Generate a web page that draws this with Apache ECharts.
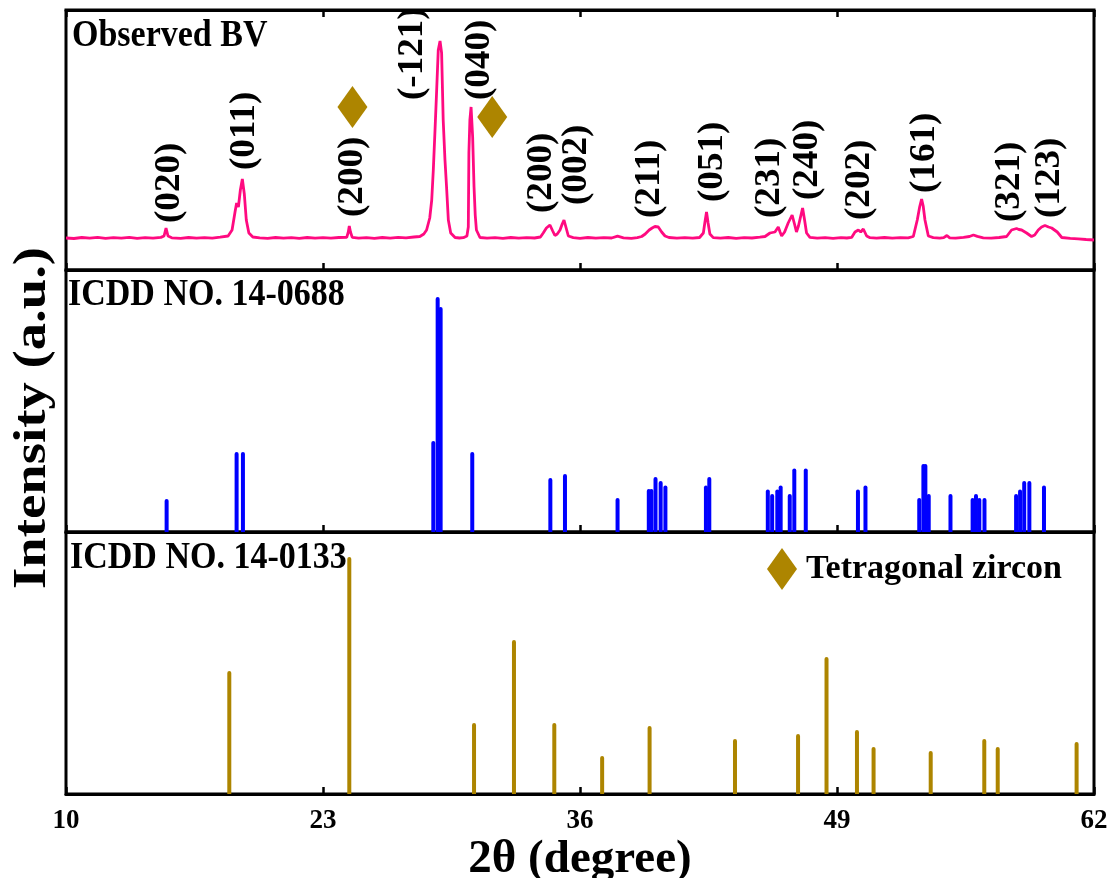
<!DOCTYPE html>
<html><head><meta charset="utf-8">
<script src="https://cdn.jsdelivr.net/npm/echarts@6/dist/echarts.min.js"></script>
<style>html,body{margin:0;padding:0;background:#fff}#c{width:1110px;height:878px}</style>
</head><body><div id="c"></div>
<script>
// ---- data ----
const xTicks = [10, 23, 36, 49, 62];

// Observed BV pattern (2θ, intensity in panel units)
const bvTheta = [10.0,10.4,10.8,11.2,11.6,12.0,12.4,12.8,13.2,13.6,14.0,14.4,14.8,14.96,15.06,15.16,15.35,15.8,16.2,16.6,17.0,17.4,17.8,18.2,18.4,18.55,18.63,18.72,18.82,18.92,19.02,19.12,19.25,19.45,19.8,20.2,20.6,21.0,21.4,21.8,22.2,22.6,23.0,23.4,23.8,24.2,24.28,24.33,24.39,24.48,24.8,25.2,25.6,26.0,26.4,26.8,27.2,27.6,27.9,28.1,28.24,28.4,28.5,28.58,28.66,28.75,28.83,28.92,29.0,29.08,29.17,29.25,29.34,29.46,29.68,29.9,30.1,30.28,30.35,30.38,30.43,30.49,30.57,30.64,30.70,30.76,30.94,31.3,31.7,32.1,32.5,32.9,33.3,33.7,34.0,34.14,34.3,34.48,34.62,34.73,34.85,34.99,35.1,35.19,35.3,35.41,35.66,36.0,36.4,36.8,37.2,37.6,37.9,38.2,38.6,38.9,39.12,39.3,39.5,39.65,39.79,39.96,40.13,40.3,40.5,40.9,41.3,41.7,42.05,42.24,42.32,42.40,42.48,42.57,42.74,43.1,43.5,43.9,44.3,44.7,45.1,45.36,45.61,45.86,46.03,46.12,46.2,46.35,46.53,46.73,46.85,46.95,47.05,47.12,47.26,47.36,47.46,47.63,48.0,48.4,48.8,49.2,49.5,49.74,49.91,50.08,50.2,50.33,50.5,50.67,51.0,51.4,51.8,52.2,52.6,52.86,53.06,53.18,53.28,53.36,53.45,53.62,53.87,54.2,54.4,54.56,54.7,55.0,55.4,55.7,55.9,56.1,56.4,56.8,57.2,57.58,57.83,58.08,58.2,58.34,58.59,58.84,59.0,59.18,59.35,59.52,59.7,59.86,60.0,60.14,60.37,60.8,61.2,61.6,62.0];
const bvIntensity = [32,31.5,32.5,31.8,32.6,31.7,32.4,31.9,32.6,31.6,32.3,31.8,32.6,34,42,34,32.2,31.7,32.5,31.8,32.4,31.9,32.8,34,40,58,67,63,80,91,76,50,37,33,32.2,31.7,32.5,31.8,32.4,31.7,32.5,31.9,32.4,31.8,32.5,32.6,38,44,38,32.6,31.8,32.4,31.7,32.5,31.9,32.6,32.2,33,33.5,36,40,52,70,100,137,180,220,229,217,150,110,83,50,37,32.5,32,32.3,34,43,117,150,163,133,83,55,40,32.5,31.8,32.4,31.7,32.5,31.8,32.4,32.0,33,37,42,45,39,34.5,36,40,46,50,42,34,32.4,31.7,32.5,31.8,32.4,32.0,33.8,32.2,31.7,32.4,33.5,36,40,42,43.5,43,38,34,32.5,31.8,32.4,31.9,32.5,37,48,58,47,36,32.4,31.8,32.5,31.7,32.4,32.0,32.8,33.5,37,38,43,38,34,38,47,55,46,38,44,50,62,50,37,32.6,31.8,32.4,31.7,32.4,32.0,32.6,38,40,38,41,34,32.3,31.8,32.5,31.9,32.4,32.1,33.5,50,63,71,64,50,34,32.4,31.8,32.3,34.5,32.2,31.8,32.6,33.5,35,33.6,32.2,31.8,32.5,33.5,40,41.5,40.5,40,37,33.5,35,40,43,44.5,43,42,40,38,32.5,31.7,31.2,30.5,30];

// ICDD 14-0688 (BiVO4) stick pattern
const bvRefTheta = [15.09,18.63,18.95,28.58,28.80,28.95,30.55,34.50,35.24,37.90,39.48,39.61,39.82,40.08,40.32,42.37,42.54,45.50,45.72,45.98,46.15,46.61,46.84,47.42,50.06,50.44,53.16,53.37,53.47,53.64,54.74,55.86,56.03,56.20,56.46,58.06,58.26,58.47,58.73,59.47];
const bvRefIntensity = [33,80,80,91,235,225,80,54,58,34,43,43,55,51,46.5,46.5,55,42.5,38,42.5,46.5,38,63.5,63.5,42.5,46.5,34,68,68,38,38,34,38,34,34,38,42.5,51,51,46.5];

// ICDD 14-0133 (tetragonal zircon) stick pattern
const zirconTheta = [18.26,24.33,30.64,32.66,34.70,37.12,39.52,43.84,47.03,48.47,50.01,50.85,53.74,56.45,57.13,61.12];
const zirconIntensity = [123,237,71,154,71,38,68,55,60,137,64,47,43,55,47,52];

// Miller-index annotations: text, 2θ position, baseline level of the label
const peakLabels = ['(020)','(011)','(200)','(-121)','(040)','(200)','(002)','(211)','(051)','(231)','(240)','(202)','(161)','(321)','(123)'];
const peakTheta = [15.26,19.05,24.52,27.55,30.94,34.08,35.85,39.54,42.73,45.61,47.53,50.16,53.45,57.75,59.77];
const peakLabelBase = [47,100,53,170,170,57,65,52,68,52,70,50,77,48,52];

// zircon markers in the observed pattern
const diamondTheta = [24.49, 31.56];
const diamondLevel = [163, 153];

const panelTitles = ['Observed BV', 'ICDD NO. 14-0688', 'ICDD NO. 14-0133'];
const legendLabel = 'Tetragonal zircon';
const xTitle = '2θ (degree)';
const yTitle = 'Intensity (a.u.)';

// ---- styling / layout ----
const FONT = '"Liberation Serif", "Times New Roman", serif';
const PINK = '#ff0a80', BLUE = '#0000ff', GOLD = '#ad8500';
const L = 66, R = 16;
const tops = [10, 270, 532], heights = [260, 262, 262];
const titlePos = [[72, 36], [68, 295], [70, 558]];

const chart = echarts.init(document.getElementById('c'), null, {renderer: 'canvas'});

function xAx(i, showLabel) {
  return {
    type: 'value', gridIndex: i, min: 10, max: 62,
    axisLine: {show: true, onZero: false, lineStyle: {color: '#000', width: 3}},
    axisTick: {show: true, inside: true, length: 7, customValues: xTicks, lineStyle: {color: '#000', width: 2.5}},
    axisLabel: {show: showLabel, customValues: xTicks, color: '#000', fontFamily: FONT, fontWeight: 'bold', fontSize: 27, margin: 14},
    splitLine: {show: false}
  };
}
const xAxes = [xAx(0, false), xAx(1, false), xAx(2, true)];
xAxes[2].name = xTitle;
xAxes[2].nameLocation = 'middle';
xAxes[2].nameGap = 42;
xAxes[2].nameTextStyle = {color: '#000', fontFamily: FONT, fontWeight: 'bold', fontSize: 47};
const topAx = xAx(0, false); topAx.position = 'top';
xAxes.push(topAx);

const yAxes = heights.map((h, i) => ({type: 'value', gridIndex: i, min: 0, max: h, show: false}));

const option = {
  animation: false,
  backgroundColor: '#fff',
  grid: tops.map((t, i) => ({left: L, right: R, top: t, height: heights[i], outerBoundsMode: 'none', containLabel: false, show: true, borderColor: '#000', borderWidth: 3, backgroundColor: 'transparent'})),
  xAxis: xAxes,
  yAxis: yAxes,
  legend: {
    data: [{name: legendLabel, icon: 'diamond'}],
    left: 767, top: 548, padding: 0, itemWidth: 30, itemHeight: 42,
    selectedMode: false,
    textStyle: {fontFamily: FONT, fontWeight: 'bold', fontSize: 34, color: '#000', padding: [4, 0, 0, 4]}
  },
  graphic: [{
    type: 'text', x: 33, y: 418, rotation: Math.PI / 2, scaleX: 1.19,
    style: {text: yTitle, font: 'bold 46px ' + FONT, fill: '#000', align: 'center', verticalAlign: 'middle'}
  }].concat(panelTitles.map((t, i) => ({
    type: 'text', x: titlePos[i][0], y: titlePos[i][1], scaleY: 1.12,
    style: {text: t, font: 'bold 34px ' + FONT, fill: '#000', align: 'left', verticalAlign: 'middle'}
  }))),
  series: [
    {
      type: 'line', name: 'Observed BV', xAxisIndex: 0, yAxisIndex: 0,
      data: bvTheta.map((t, i) => [t, bvIntensity[i]]),
      showSymbol: false, symbol: 'none', lineStyle: {color: PINK, width: 2.8}, itemStyle: {color: PINK}, z: 3
    },
    {
      type: 'custom', name: 'labels', xAxisIndex: 0, yAxisIndex: 0, clip: false,
      data: peakTheta.map((t, i) => [t, peakLabelBase[i]]),
      renderItem: function (params, api) {
        const p = api.coord([api.value(0), api.value(1)]);
        return {
          type: 'text', x: p[0], y: p[1], rotation: Math.PI / 2, scaleX: 1.06,
          style: {text: peakLabels[params.dataIndex], font: 'bold 35px ' + FONT, fill: '#000', align: 'left', verticalAlign: 'middle'}
        };
      }, z: 4
    },
    {
      type: 'scatter', name: legendLabel, xAxisIndex: 0, yAxisIndex: 0,
      data: diamondTheta.map((t, i) => [t, diamondLevel[i]]),
      symbol: 'diamond', symbolSize: [30, 42], itemStyle: {color: GOLD, opacity: 1}, z: 5
    },
    {
      type: 'bar', name: 'ICDD 14-0688', xAxisIndex: 1, yAxisIndex: 1,
      data: bvRefTheta.map((t, i) => [t, bvRefIntensity[i]]),
      barWidth: 4, itemStyle: {color: BLUE, borderRadius: [2, 2, 0, 0]}
    },
    {
      type: 'bar', name: 'ICDD 14-0133', xAxisIndex: 2, yAxisIndex: 2,
      data: zirconTheta.map((t, i) => [t, zirconIntensity[i]]),
      barWidth: 4, itemStyle: {color: GOLD, borderRadius: [2, 2, 0, 0]}
    }
  ]
};
chart.setOption(option);
</script></body></html>
